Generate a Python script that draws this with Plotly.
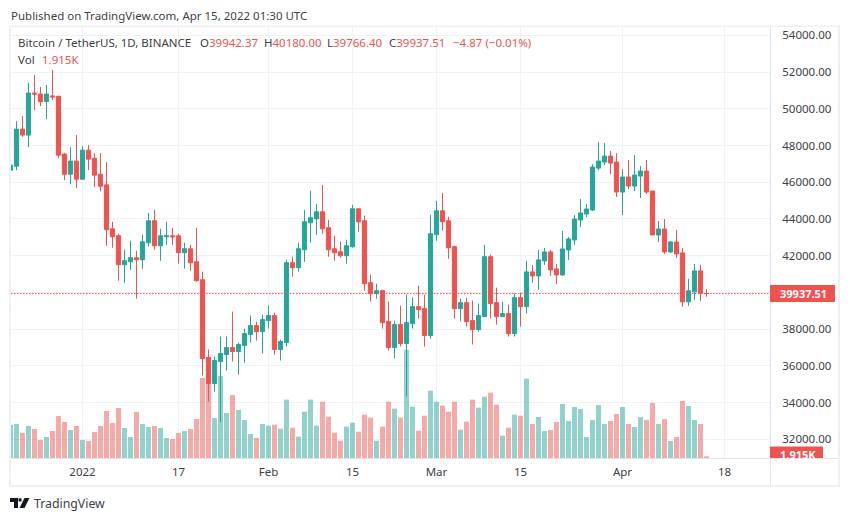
import pandas as pd
import plotly.graph_objects as go

W, H = 850, 521
L, R, T, B = 11, 770, 27, 458

dates = pd.date_range("2021-12-20", "2022-04-15", freq="D")

opens = [46655,46873,48891,48564,50855,50800,50400,50700,50680,47530,46436,47146,
    46164,47745,47300,46436,45855,43463,43083,41507,41670,41888,41779,42703,43899,42540,43030,43083,43083,42159,42377,41670,40692,36453,35040,36235,36616,36996,36779,37105,37703,38192,37866,
    38463,38735,36888,37268,41616,41344,42322,43790,44007,44388,43518,42377,42214,41996,42486,44551,43899,40529,39931,40095,38409,36996,38246,37214,38300,39225,39116,37649,
    43138,44442,43899,42486,39116,39442,38464,37975,38680,41942,39442,38681,38844,37757,39714,39225,41116,40899,41714,42203,41279,40953,42312,42855,43942,44268,44486,46768,47094,47420,47094,
    45464,46279,45790,46333,46605,45518,43127,43453,42203,42746,42149,39486,40029,41170,39942.37]
highs = [47527,49327,49600,51400,51836,51182,51291,52109,50700,47600,47900,48564,
    47964,48018,47582,47582,47091,43844,43190,42322,42812,42268,43138,44333,44496,43463,43844,43518,43192,42703,42594,43518,41127,36887,36507,37594,37594,38953,37268,38029,38735,38409,38790,
    39279,38898,37431,41779,41942,42703,44496,45529,44822,45855,43953,43083,42757,42866,44768,44551,44170,40964,40475,40150,39496,38464,39279,39877,39714,40366,39877,44225,
    44985,45420,44116,42540,39660,39714,39551,39388,42594,42051,40257,39496,39333,39931,39986,41725,41496,42312,42420,42312,41551,43344,43018,44214,45083,44812,46985,48181,48127,47692,47583,
    46714,47203,47475,46877,47203,45518,43888,43996,42801,43399,42420,40736,41551,41496,40180]
lows = [45564,46655,48473,47900,49928,50146,49437,50473,47309,46109,45891,45673,
    46164,46655,45727,45509,42540,42431,40638,40529,41235,39659,41290,42486,42322,41725,42594,42594,41562,41290,41181,40583,35474,34062,34605,32940,35746,36235,35530,36181,37268,37377,36670,
    38029,36616,36290,37050,40855,41127,41670,42703,43138,43192,41942,41725,41888,41562,42431,43301,40095,39496,39660,38029,36833,36399,37051,34333,38029,38572,37051,37485,
    42811,43355,41833,38572,38409,38138,37160,37866,38680,38572,38246,38681,37594,37594,38138,38844,40518,40138,41496,40899,40464,40899,41768,42583,43562,44105,44431,46659,46931,46442,45192,
    44214,45627,45518,45138,45355,43127,42746,42094,42149,41877,39214,39268,39594,39540,39766.4]
closes = [46927,48891,48564,50855,50800,50382,50800,50640,47473,46436,47146,46164,
    47745,47255,46382,45782,43409,43029,41507,41725,41888,41779,42757,43899,42540,43083,43083,43030,42159,42377,41616,40638,36398,35040,36290,36670,36996,36779,37160,37757,38192,37866,38518,
    38735,36888,37322,41616,41344,42377,43844,44062,44388,43464,42322,42159,41996,42540,44551,43844,40475,39931,40095,38355,36996,38246,37214,38355,39225,39062,37649,43192,
    44442,43844,42431,39116,39442,38409,37975,38735,41942,39388,38681,38844,37757,39714,39225,41116,40899,41768,42203,41225,40953,42366,42909,43996,44322,44540,46822,47149,47420,47040,45464,
    46279,45790,46388,46605,45464,43127,43453,42203,42746,42094,39486,40083,41170,39957,39937.51]
# volume in thousands
volumes = [36.6,37.7,27.8,35.5,32.2,20.0,23.3,30.0,46.6,40.0,31.1,35.5,
    20.0,18.9,28.9,35.5,52.2,38.9,55.5,33.3,23.3,51.1,37.7,34.4,35.5,33.3,22.2,21.1,27.8,30.0,32.2,43.3,88.8,84.4,44.4,91.0,50.0,69.9,53.3,42.2,26.6,22.2,37.7,
    35.9,37.0,32.6,64.8,33.7,23.7,51.4,64.8,35.9,62.5,45.9,28.1,19.2,34.8,39.2,29.2,48.1,44.8,19.2,34.8,62.5,54.8,44.8,120.2,57.0,30.3,47.0,74.7,
    62.5,58.1,51.4,62.5,31.5,40.3,64.8,55.9,68.1,72.5,59.2,24.8,33.7,48.1,47.0,88.1,37.7,45.5,30.0,31.1,40.0,59.9,41.1,56.6,54.4,23.3,42.2,58.8,37.7,41.1,48.8,
    56.6,37.7,34.4,45.5,42.2,61.1,37.7,43.3,18.9,23.3,63.3,57.7,42.2,37.7,1.915]

price_ticks = [32000,34000,36000,38000,40000,42000,44000,46000,48000,50000,52000,54000]
# the 40000 label sits behind the last price tag in the reference
price_labels = ["" if p == 40000 else "%.2f" % p for p in price_ticks]
date_ticks = ["2022-01-01","2022-01-17","2022-02-01","2022-02-15","2022-03-01","2022-03-15","2022-04-01","2022-04-18"]
date_labels = ["2022","17","Feb","15","Mar","15","Apr","18"]

UP = "#26a69a"
DOWN = "#ef5350"
INK = "#3c3f47"
GRID = "#f1f2f5"
EDGE = "#e0e3eb"
FONT = "Noto Sans"


def px(x):
    return (x - L) / (R - L)


def py(y):
    return (B - y) / (B - T)


vol_colors = ["rgba(38,166,154,0.5)" if c >= o else "rgba(239,83,80,0.5)" for o, c in zip(opens, closes)]

fig = go.Figure()
fig.add_trace(go.Bar(x=dates, y=volumes, marker=dict(color=vol_colors, line_width=0), yaxis="y", hoverinfo="skip"))
fig.add_trace(go.Candlestick(
    x=dates, open=opens, high=highs, low=lows, close=closes, yaxis="y2", whiskerwidth=0,
    increasing=dict(line=dict(color=UP, width=1), fillcolor=UP),
    decreasing=dict(line=dict(color=DOWN, width=1), fillcolor=DOWN),
))


def rect(x0, y0, x1, y1, color):
    return dict(type="rect", xref="paper", yref="paper", x0=px(x0), x1=px(x1), y0=py(y0), y1=py(y1),
                fillcolor=color, line_width=0, layer="above")


def hline(x0, x1, y, color):
    return dict(type="line", xref="paper", yref="paper", x0=px(x0), x1=px(x1), y0=py(y), y1=py(y),
                line=dict(color=color, width=1), layer="above")


def poly(points, color):
    path = "M" + " L".join("%.5f,%.5f" % (px(a), py(b)) for a, b in points) + " Z"
    return dict(type="path", xref="paper", yref="paper", path=path, fillcolor=color, line_width=0, layer="above")


shapes = [
    # outer frame
    rect(9, 25.5, 840, 27, "#eff0f5"),
    rect(9, 485, 840, 487, "#eff0f5"),
    rect(9, 25.5, 11, 487, "#eff0f5"),
    rect(838, 25.5, 840, 487, "#eff0f5"),
    # axis lines
    hline(11, 838, 458.5, EDGE),
    dict(type="line", xref="paper", yref="paper", x0=px(770.5), x1=px(770.5), y0=py(27), y1=py(485),
         line=dict(color=EDGE, width=1), layer="above"),
    # last price line
    dict(type="line", xref="paper", yref="y2", x0=0, x1=1,
         y0=closes[-1], y1=closes[-1], line=dict(color=DOWN, width=1, dash="1.5px,1.5px"), layer="above"),
    rect(770, 285, 835, 302, DOWN),
    rect(770, 446.5, 823, 458, DOWN),
    # logo
    poly([(10, 498), (18, 498), (18, 508), (14, 508), (14, 502), (10, 502)], "#131722"),
    poly([(18.6, 498.3), (21.5, 498.3), (21.5, 501.5), (18.6, 501.5)], "#131722"),
    poly([(24.5, 498), (29.5, 498), (24.5, 508), (19.5, 508)], "#131722"),
]


def label(x, y, text, color=INK, size=11.5, anchor="left"):
    return dict(xref="paper", yref="paper", x=px(x), y=py(y), text=text, showarrow=False,
                xanchor=anchor, yanchor="middle", xshift=0, align="left",
                font=dict(family=FONT, size=size, color=color))


def ohlc(x, name, value):
    return label(x, 42, name + '<span style="color:%s">%s</span>' % (DOWN, value))


annotations = [
    label(8.5, 15, "Published on TradingView.com, Apr 15, 2022 01:30 UTC", size=11.5),
    label(16, 42, "Bitcoin / TetherUS, 1D, BINANCE"),
    ohlc(197.5, "O", "39942.37"),
    ohlc(261.5, "H", "40180.00"),
    ohlc(324.5, "L", "39766.40"),
    ohlc(386.5, "C", "39937.51"),
    label(450.5, 42, "\u22124.87 (\u22120.01%)", color=DOWN),
    label(16, 59, "Vol"),
    label(39.5, 59, "1.915K", color=DOWN),
    label(778, 293.5, "<b>39937.51</b>", color="#ffffff", size=11),
    label(778, 454.5, "<b>1.915K</b>", color="#ffffff", size=11),
    # keeps the clipped volume tag from running below the axis line
    dict(xref="paper", yref="paper", x=px(771.5), y=py(459.5), xanchor="left", yanchor="top",
         text=" ", showarrow=False, bgcolor="#ffffff", width=64, height=22, borderpad=0),
    label(31.5, 503.5, "TradingView", color="#3c3f47", size=12.3),
]

fig.update_layout(
    width=W, height=H,
    margin=dict(l=L, r=W - R, t=T, b=H - B),
    paper_bgcolor="#ffffff", plot_bgcolor="#ffffff",
    showlegend=False,
    boxgap=0.3, boxgroupgap=0, bargap=0.17,
    font=dict(family=FONT, size=11.5, color=INK),
    xaxis=dict(
        type="date", range=["2021-12-20 02:00", "2022-04-25 14:00"], rangeslider=dict(visible=False),
        tickvals=date_ticks, ticktext=date_labels, tickangle=0,
        showgrid=True, gridcolor=GRID, gridwidth=1, zeroline=False, showline=False,
        ticks="outside", ticklen=3, tickcolor="rgba(0,0,0,0)",
    ),
    yaxis=dict(range=[0, 478.4], visible=False, showgrid=False, zeroline=False, fixedrange=True),
    yaxis2=dict(
        overlaying="y", side="right", range=[30982, 54451],
        tickvals=price_ticks, ticktext=price_labels,
        showgrid=True, gridcolor=GRID, gridwidth=1, zeroline=False, showline=False,
        ticks="outside", ticklen=9, tickcolor="rgba(0,0,0,0)",
    ),
    shapes=shapes,
    annotations=annotations,
)

# the page's default body margin would push everything 8px down and right
fig.write_html("out.html", config={"displayModeBar": False}, post_script="document.body.style.margin='0';")
